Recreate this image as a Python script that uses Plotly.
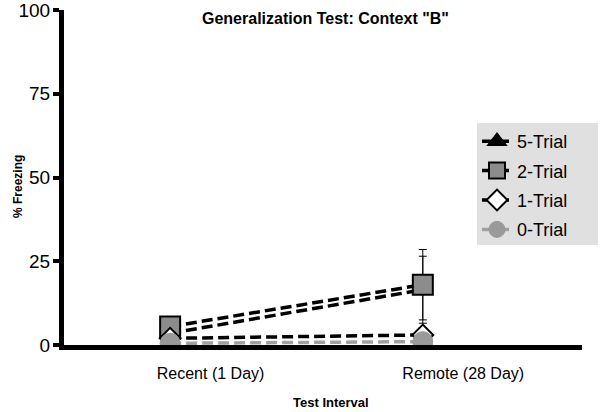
import plotly.graph_objects as go

categories = ["Recent (1 Day)", "Remote (28 Day)"]
series_names = ["5-Trial", "2-Trial", "1-Trial", "0-Trial"]
trial5 = [3.5, 16.5]
trial2 = [5.5, 18]
trial1 = [2, 3]
trial0 = [0.5, 1]
err5 = [0, 10]
err2 = [0, 10.5]
err1 = [0, 0]
err0 = [0, 0]
y_ticks = [0, 25, 50, 75, 100]

x_pos = list(range(len(categories)))
label_offset = 0.16  # category labels sit right of the points in the original

styles = [
    dict(symbol="triangle-up", size=18, color="black", line=dict(color="black", width=1.5), lc="black"),
    dict(symbol="square", size=20, color="#8c8c8c", line=dict(color="black", width=2), lc="black"),
    dict(symbol="diamond", size=16, color="white", line=dict(color="black", width=2), lc="black"),
    dict(symbol="circle", size=20, color="#9a9a9a", line=dict(color="#9a9a9a", width=1), lc="#a0a0a0"),
]
values = [trial5, trial2, trial1, trial0]
errs = [err5, err2, err1, err0]

fig = go.Figure()
for i, (name, vals, er, st) in enumerate(zip(series_names, values, errs, styles)):
    fig.add_trace(go.Scatter(
        x=x_pos, y=vals, name=name, mode="lines+markers",
        legendgroup=name,
        line=dict(color=st["lc"], width=3.5, dash="11px,5px"),
        marker=dict(symbol=st["symbol"], size=st["size"], color=st["color"], line=st["line"]),
        error_y=dict(type="data", array=er, visible=True, color="black", thickness=1, width=4),
    ))

font = "Arial, Liberation Sans, sans-serif"
T, B, L, R = 10, 67, 64, 18
ph = 412 - T - B
pw = 600 - L - R


def px(x):
    return (x - L) / pw


def py(y):
    return (412 - B - y) / ph


fig.update_layout(
    width=600, height=412,
    margin=dict(l=L, r=R, t=T, b=B),
    paper_bgcolor="white", plot_bgcolor="white",
    font=dict(family=font, color="black"),
    showlegend=True,
    legend=dict(
        x=px(477), y=py(123), xanchor="left", yanchor="top",
        bgcolor="rgba(0,0,0,0)", font=dict(size=18, family=font, color="black"),
        traceorder="grouped", tracegroupgap=3, itemwidth=30,
    ),
    shapes=[dict(type="rect", xref="paper", yref="paper", x0=px(477), x1=px(598),
                 y0=py(245), y1=py(123), fillcolor="#e0e0e0", line=dict(width=0), layer="below")],
    xaxis=dict(
        range=[-0.42, 1.63], automargin=False,
        tickvals=[p + label_offset for p in x_pos], ticktext=categories,
        showline=True, linecolor="black", linewidth=5,
        ticks="", showgrid=False, zeroline=False,
        tickfont=dict(size=16, family=font), ticklabelstandoff=10,
    ),
    yaxis=dict(
        range=[0, 100], tickvals=y_ticks, automargin=False,
        showline=True, linecolor="black", linewidth=5,
        ticks="outside", ticklen=6, tickwidth=4, tickcolor="black",
        showgrid=False, zeroline=False, ticklabeloverflow="allow",
        tickfont=dict(size=19, family=font), ticklabelstandoff=-1,
    ),
    annotations=[
        dict(text="<b>Generalization Test: Context \"B\"</b>", x=px(325), y=py(18),
             xref="paper", yref="paper", yanchor="middle", xanchor="center", showarrow=False,
             font=dict(size=16, family=font)),
        dict(text="<b>Test Interval</b>", x=px(331), y=py(402),
             xref="paper", yref="paper", yanchor="middle", xanchor="center", showarrow=False,
             font=dict(size=13, family=font)),
        dict(text="<b>% Freezing</b>", x=px(18), y=py(187), textangle=-90,
             xref="paper", yref="paper", yanchor="middle", xanchor="center", showarrow=False,
             font=dict(size=12, family=font)),
    ],
)
fig.write_html("out.html", config={"displayModeBar": False},
               post_script="document.body.style.margin='0';")
